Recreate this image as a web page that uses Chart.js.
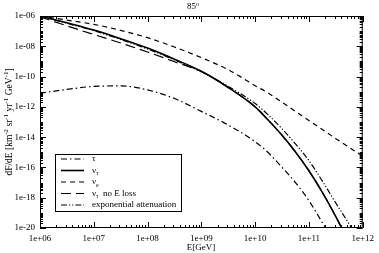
<!DOCTYPE html>
<html>
<head>
<meta charset="utf-8">
<script src="https://cdn.jsdelivr.net/npm/chart.js@4.4.0/dist/chart.umd.min.js"></script>
<style>
  html, body { margin: 0; padding: 0; background: #fff; }
</style>
</head>
<body>
<canvas id="chart" width="379" height="253"></canvas>
<script>
// ----------------------
// DATA (log10 values)
// ----------------------
const energyExp = [6, 6.5, 7, 7.5, 8, 8.5, 9, 9.5, 10, 10.25, 10.5, 10.75, 11, 11.25, 11.5, 11.75, 12];
const tauLog    = [-11.1, -10.85, -10.65, -10.62, -10.88, -11.45, -12.3, -13.2, -14.3, -15.05, -16.0, -17.0, -18.2, -19.65, -21.2, -22.8, -24.4];
const nuTauLog  = [-6.0, -6.45, -6.93, -7.5, -8.12, -8.85, -9.65, -10.72, -12.0, -12.9, -13.88, -14.98, -16.22, -17.65, -19.25, -21.0, -22.8];
const nuELog    = [-6.0, -6.27, -6.55, -6.95, -7.43, -8.05, -8.75, -9.55, -10.6, -11.1, -11.7, -12.3, -12.9, -13.5, -14.1, -14.68, -15.25];
const noLossLog = [-6.05, -6.65, -7.22, -7.78, -8.38, -9.02, -9.68, -10.72, -12.0, -12.9, -13.88, -14.98, -16.22, -17.65, -19.25, -21.0, -22.8];
const expAttLog = [-6.0, -6.48, -6.97, -7.55, -8.18, -8.9, -9.68, -10.65, -11.78, -12.55, -13.45, -14.45, -15.55, -16.9, -18.35, -19.75, -21.2];

const seriesLabels = ["τ", "ν_τ", "ν_e", "ν_τ  no E loss", "exponential attenuation"];
const xTickExp = [6, 7, 8, 9, 10, 11, 12];
const yTickExp = [-6, -8, -10, -12, -14, -16, -18, -20];

const FONT = "'Liberation Serif', 'Times New Roman', serif";

function toPoints(logs) {
  return energyExp.map((e, i) => ({ x: Math.pow(10, e), y: Math.pow(10, logs[i]) }));
}

function expLabel(value) {
  const p = Math.round(Math.log10(value));
  return "1e" + (p < 0 ? "-" : "+") + String(Math.abs(p)).padStart(2, "0");
}

const lineBase = {
  borderColor: "#000",
  borderWidth: 1.2,
  pointRadius: 0,
  fill: false,
  cubicInterpolationMode: "monotone",
};

// text pieces: [text, isSuperscript]
function richWidth(ctx, parts, base, small) {
  let w = 0;
  parts.forEach(([t, sup]) => {
    ctx.font = (sup ? small : base) + "px " + FONT;
    w += ctx.measureText(t).width;
  });
  return w;
}

function drawRich(ctx, parts, x0, yMid, base, small) {
  let cx = x0;
  ctx.textAlign = "left";
  ctx.textBaseline = "middle";
  parts.forEach(([t, sup]) => {
    ctx.font = (sup ? small : base) + "px " + FONT;
    ctx.fillText(t, cx, yMid - (sup ? 3 : 0));
    cx += ctx.measureText(t).width;
  });
}

function drawSubText(ctx, text, x0, yMid) {
  ctx.textAlign = "left";
  ctx.textBaseline = "middle";
  const m = text.match(/^(.*?)_(\S)(.*)$/);
  ctx.font = "9px " + FONT;
  if (!m) { ctx.fillText(text, x0, yMid); return; }
  ctx.fillText(m[1], x0, yMid);
  let cx = x0 + ctx.measureText(m[1]).width;
  ctx.font = "6px " + FONT;
  ctx.fillText(m[2], cx, yMid + 3);
  cx += ctx.measureText(m[2]).width;
  ctx.font = "9px " + FONT;
  ctx.fillText(m[3], cx, yMid);
}

// ----------------------
// FRAME, INWARD TICKS, TITLES, LEGEND
// ----------------------
const decorations = {
  id: "decorations",
  afterDraw(chart) {
    const { ctx, chartArea: a, scales: { x, y } } = chart;
    ctx.save();
    ctx.strokeStyle = "#000";
    ctx.lineWidth = 1;
    ctx.setLineDash([]);
    ctx.strokeRect(a.left + 0.5, a.top + 0.5, a.right - a.left - 1, a.bottom - a.top - 1);

    ctx.beginPath();
    // x ticks, bottom and top
    for (let p = 6; p <= 12; p++) {
      for (let k = 1; k <= 9; k++) {
        if (p === 12 && k > 1) break;
        const px = Math.round(x.getPixelForValue(k * Math.pow(10, p))) + 0.5;
        const len = k === 1 ? 6 : 3;
        ctx.moveTo(px, a.bottom); ctx.lineTo(px, a.bottom - len);
        ctx.moveTo(px, a.top); ctx.lineTo(px, a.top + len);
      }
    }
    // y ticks, left and right
    for (let p = -20; p <= -6; p++) {
      for (let k = 1; k <= 9; k++) {
        if (p === -6 && k > 1) break;
        const py = Math.round(y.getPixelForValue(k * Math.pow(10, p))) + 0.5;
        const len = (k === 1 && p % 2 === 0) ? 6 : 3;
        ctx.moveTo(a.left, py); ctx.lineTo(a.left + len, py);
        ctx.moveTo(a.right, py); ctx.lineTo(a.right - len, py);
      }
    }
    ctx.stroke();

    ctx.fillStyle = "#000";

    // title 85°
    const titleParts = [["85", false], ["o", true]];
    const tw = richWidth(ctx, titleParts, 9, 6);
    drawRich(ctx, titleParts, 193 - tw / 2, 7, 9, 6);

    // x title
    ctx.font = "9px " + FONT;
    ctx.textAlign = "center";
    ctx.textBaseline = "middle";
    ctx.fillText("E[GeV]", 201, 248);

    // y title
    const yParts = [["dF/dE [km", false], ["-2", true], [" sr", false], ["-1", true],
      [" yr", false], ["-1", true], [" GeV", false], ["-1", true], ["]", false]];
    ctx.save();
    ctx.translate(9, 122);
    ctx.rotate(-Math.PI / 2);
    const yw = richWidth(ctx, yParts, 9.5, 7);
    drawRich(ctx, yParts, -yw / 2, 0, 9.5, 7);
    ctx.restore();

    // legend
    const bx = 55, by = 154, bw = 126, bh = 57;
    ctx.lineWidth = 1;
    ctx.strokeRect(bx + 0.5, by + 0.5, bw, bh);
    chart.data.datasets.forEach((ds, i) => {
      const ry = by + 5 + i * 11.5;
      ctx.beginPath();
      ctx.setLineDash(ds.borderDash || []);
      ctx.lineWidth = ds.borderWidth;
      ctx.moveTo(bx + 6, ry);
      ctx.lineTo(bx + 29, ry);
      ctx.stroke();
      ctx.setLineDash([]);
      drawSubText(ctx, ds.label, bx + 37, ry);
    });
    ctx.restore();
  },
};

// ----------------------
// CHART
// ----------------------
new Chart(document.getElementById("chart").getContext("2d"), {
  type: "line",
  data: {
    datasets: [
      { ...lineBase, label: seriesLabels[0], data: toPoints(tauLog), borderDash: [6, 3, 1.5, 3] },
      { ...lineBase, label: seriesLabels[1], data: toPoints(nuTauLog), borderWidth: 1.6 },
      { ...lineBase, label: seriesLabels[2], data: toPoints(nuELog), borderDash: [5, 4] },
      { ...lineBase, label: seriesLabels[3], data: toPoints(noLossLog), borderDash: [10, 5] },
      { ...lineBase, label: seriesLabels[4], data: toPoints(expAttLog), borderDash: [6, 2, 1.2, 2, 1.2, 2] },
    ],
  },
  options: {
    responsive: false,
    animation: false,
    devicePixelRatio: 1,
    layout: { padding: { top: 16, right: 13, left: 0, bottom: 0 } },
    plugins: { legend: { display: false }, title: { display: false }, tooltip: { enabled: false } },
    scales: {
      x: {
        type: "logarithmic",
        min: 1e6,
        max: 1e12,
        grid: { display: false, drawTicks: false },
        border: { display: false },
        afterBuildTicks: (scale) => { scale.ticks = xTickExp.map((e) => ({ value: Math.pow(10, e) })); },
        afterFit: (scale) => { scale.height = 25; },
        ticks: {
          autoSkip: false, maxRotation: 0, padding: 5, color: "#000",
          font: { family: FONT, size: 9 },
          callback: (v) => expLabel(v),
        },
      },
      y: {
        type: "logarithmic",
        min: 1e-20,
        max: 1e-6,
        grid: { display: false, drawTicks: false },
        border: { display: false },
        afterBuildTicks: (scale) => { scale.ticks = yTickExp.map((e) => ({ value: Math.pow(10, e) })); },
        afterFit: (scale) => { scale.width = 40; },
        ticks: {
          autoSkip: false, padding: 5, color: "#000",
          font: { family: FONT, size: 9 },
          callback: (v) => expLabel(v),
        },
      },
    },
  },
  plugins: [decorations],
});
</script>
</body>
</html>
